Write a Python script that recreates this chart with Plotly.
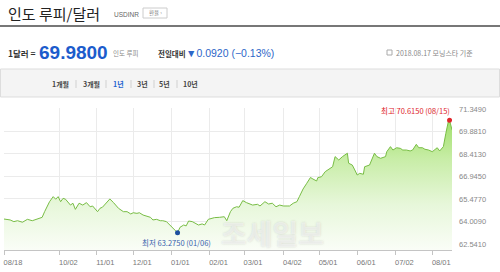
import plotly.graph_objects as go

# ---------------- data ----------------
dates = [
    "2017-08-18", "2017-08-23", "2017-08-26", "2017-08-29", "2017-09-02", "2017-09-06",
    "2017-09-10", "2017-09-14", "2017-09-18", "2017-09-20", "2017-09-22", "2017-09-24",
    "2017-09-27", "2017-09-29", "2017-10-01", "2017-10-03", "2017-10-05", "2017-10-07",
    "2017-10-11", "2017-10-13", "2017-10-15", "2017-10-18", "2017-10-21", "2017-10-24",
    "2017-10-27", "2017-10-29", "2017-11-02", "2017-11-04", "2017-11-06", "2017-11-10",
    "2017-11-12", "2017-11-15", "2017-11-18", "2017-11-19", "2017-11-23", "2017-11-26",
    "2017-11-29", "2017-12-01", "2017-12-04", "2017-12-06", "2017-12-09", "2017-12-12",
    "2017-12-15", "2017-12-17", "2017-12-20", "2017-12-23", "2017-12-25", "2017-12-28",
    "2017-12-31", "2018-01-02", "2018-01-06", "2018-01-08", "2018-01-11", "2018-01-13",
    "2018-01-15", "2018-01-18", "2018-01-20", "2018-01-23", "2018-01-26", "2018-01-28",
    "2018-01-31", "2018-02-03", "2018-02-05", "2018-02-09", "2018-02-13", "2018-02-15",
    "2018-02-18", "2018-02-20", "2018-02-23", "2018-02-25", "2018-02-28", "2018-03-03",
    "2018-03-06", "2018-03-08", "2018-03-12", "2018-03-14", "2018-03-18", "2018-03-21",
    "2018-03-24", "2018-03-27", "2018-03-30", "2018-04-02", "2018-04-05", "2018-04-07",
    "2018-04-10", "2018-04-13", "2018-04-15", "2018-04-18", "2018-04-21", "2018-04-24",
    "2018-04-26", "2018-04-29", "2018-04-30", "2018-05-03", "2018-05-06", "2018-05-08",
    "2018-05-12", "2018-05-14", "2018-05-17", "2018-05-20", "2018-05-22", "2018-05-24",
    "2018-05-25", "2018-05-28", "2018-05-30", "2018-06-01", "2018-06-03", "2018-06-06",
    "2018-06-07", "2018-06-11", "2018-06-15", "2018-06-17", "2018-06-20", "2018-06-24",
    "2018-06-25", "2018-06-28", "2018-06-30", "2018-07-03", "2018-07-06", "2018-07-08",
    "2018-07-11", "2018-07-14", "2018-07-16", "2018-07-19", "2018-07-21", "2018-07-24",
    "2018-07-26", "2018-07-29", "2018-08-01", "2018-08-03", "2018-08-05", "2018-08-07",
    "2018-08-10", "2018-08-12", "2018-08-14", "2018-08-15", "2018-08-16", "2018-08-17",
]
rates = [
    64.17, 64.11, 64.00, 64.06, 63.96, 64.15,
    64.06, 64.17, 64.28, 64.65, 64.97, 65.30,
    65.63, 65.46, 65.63, 65.30, 65.52, 65.46,
    65.08, 65.20, 64.80, 65.20, 65.08, 65.24,
    64.97, 65.02, 64.65, 64.87, 64.94, 65.30,
    65.48, 65.24, 64.97, 64.87, 64.65, 64.65,
    64.50, 64.58, 64.54, 64.58, 64.43, 64.37,
    64.28, 64.11, 64.15, 64.06, 64.06, 64.00,
    63.78, 63.63, 63.275, 63.63, 63.78, 63.72,
    64.04, 64.00, 63.89, 63.78, 63.85, 63.78,
    64.15, 64.22, 64.26, 64.28, 64.32, 64.06,
    64.65, 64.87, 64.97, 64.94, 65.37, 65.24,
    65.15, 65.08, 65.13, 65.02, 65.30, 65.15,
    65.20, 64.97, 65.08, 65.02, 65.02, 65.02,
    65.20, 65.30, 65.63, 66.13, 66.50, 66.88,
    66.78, 66.65, 66.87, 66.93, 67.26, 67.37,
    67.58, 68.24, 68.02, 68.24, 68.35, 68.46,
    67.81, 67.69, 67.37, 67.04, 67.15, 67.09,
    67.58, 67.69, 68.46, 68.24, 68.13, 68.24,
    68.56, 68.89, 68.67, 68.82, 68.78, 68.67,
    68.67, 68.61, 68.67, 69.04, 68.82, 68.82,
    68.72, 68.67, 68.56, 68.67, 68.82, 68.61,
    68.89, 69.76, 70.52, 70.615, 70.25, 69.98,
]

y_ticks = [62.541, 64.009, 65.477, 66.945, 68.413, 69.881, 71.349]
y_tick_text = ["62.5410", "64.0090", "65.4770", "66.9450", "68.4130", "69.8810", "71.3490"]
x_ticks = ["2017-08-18", "2017-10-02", "2017-11-01", "2017-12-01", "2018-01-01", "2018-02-01",
           "2018-03-01", "2018-04-02", "2018-05-01", "2018-06-01", "2018-07-02", "2018-08-01"]
x_tick_text = ["08/18", "10/02", "11/01", "12/01", "01/01", "02/01",
               "03/01", "04/02", "05/01", "06/01", "07/02", "08/01"]

title_text = "인도 루피/달러"
symbol_text = "USDINR"
change_value = 0.0920
change_pct = -0.13
as_of_text = "2018.08.17 모닝스타 기준"
period_tabs = ["1개월", "3개월", "1년", "3년", "5년", "10년"]
active_tab = "1년"
watermark_text = "조세일보"

y_min, y_max = 62.15, 71.41

# ---------------- geometry helpers (pixels -> paper) ----------------
W, H = 500, 272
L, R, T, B = 4, 48, 108, 22
PW, PH = W - L - R, H - T - B


def px(x):
    return (x - L) / PW


def py(y):
    return (H - B - y) / PH


KR = "Noto Sans CJK KR, sans-serif"
NUM = "Liberation Sans, Arial, sans-serif"

fig = go.Figure()

# baseline for the gradient fill
fig.add_trace(go.Scatter(x=dates, y=[y_min] * len(dates), mode="lines",
                         line=dict(width=0), hoverinfo="skip", showlegend=False))
fig.add_trace(go.Scatter(
    x=dates, y=rates, mode="lines", fill="tonexty",
    line=dict(color="#78bd45", width=1),
    fillgradient=dict(type="vertical", start=y_min, stop=70.62,
                      colorscale=[[0, "#fafdf7"], [0.35, "#e7f7da"],
                                  [0.7, "#c8eda7"], [1, "#a0df6a"]]),
    showlegend=False))

i_max = rates.index(max(rates))
i_min = rates.index(min(rates))
fig.add_trace(go.Scatter(x=[dates[i_max]], y=[rates[i_max]], mode="markers",
                         marker=dict(color="#e0262b", size=5), showlegend=False))
fig.add_trace(go.Scatter(x=[dates[i_min]], y=[rates[i_min]], mode="markers",
                         marker=dict(color="#1d4f9e", size=5), showlegend=False))

ann = []


def text(x, y, s, size, color, anchor="left", bold=False, family=KR, **kw):
    ann.append(dict(x=px(x), y=py(y), xref="paper", yref="paper", text=s,
                    showarrow=False, xanchor=anchor, yanchor="middle",
                    font=dict(size=size, color=color, family=family,
                              weight="bold" if bold else "normal", **kw)))


# watermark (drawn first so other texts sit on top)
text(272, 233, watermark_text, 28, "rgba(255,255,255,0.5)", anchor="center", bold=True,
     shadow="0px 0px 2px rgba(120,120,120,0.55)")

# header
text(6, 13, title_text, 15, "#222222")
text(112, 14, symbol_text, 6.5, "#666666", family=NUM)
text(155, 13, "환율 ›", 5.5, "#777777", anchor="center")
text(6, 53.5, "1달러 =", 8.5, "#333333", bold=True)
text(37, 52.5, f"{rates[-1]:.4f}", 19, "#1c5ccc", bold=True, family=NUM)
text(111, 53.5, "인도 루피", 6.5, "#888888")
text(156, 53.5, "전일대비", 7.5, "#333333", bold=True)
text(184, 53, f"▼{change_value:.4f} ({change_pct:+.2f}%)".replace("-", "−"), 10.5, "#2d67c8", family=NUM)
text(394, 53, as_of_text, 7, "#888888")

# tabs
tab_x = [60, 91, 118.5, 142, 164.5, 190]
for tx, lab in zip(tab_x, period_tabs):
    text(tx, 84, lab, 7, "#1f63d0" if lab == active_tab else "#444444", anchor="center", bold=True)

# min / max labels
text(452, 110, f"최고 {rates[i_max]:.4f} ({dates[i_max][5:7]}/{dates[i_max][8:]})", 7.5,
     "#e0262b", anchor="right")
text(140, 242, f"최저 {rates[i_min]:.4f} ({dates[i_min][5:7]}/{dates[i_min][8:]})", 7.5,
     "#3a63ae")

shapes = [
    dict(type="line", xref="paper", yref="paper", x0=px(0), x1=px(500), y0=py(26), y1=py(26),
         line=dict(color="#4a4a4a", width=1.5)),
    dict(type="rect", xref="paper", yref="paper", x0=px(143), x1=px(167), y0=py(8), y1=py(18),
         line=dict(color="#cccccc", width=1), fillcolor="#ffffff"),
    dict(type="rect", xref="paper", yref="paper", x0=px(0.5), x1=px(499.5), y0=py(69), y1=py(97),
         line=dict(color="#dddddd", width=1), fillcolor="#f4f4f4", layer="below"),
    dict(type="rect", xref="paper", yref="paper", x0=px(387), x1=px(392), y0=py(50), y1=py(55),
         line=dict(color="#aaaaaa", width=1), fillcolor="#ffffff"),
]
for sx in [76, 106, 131, 154, 177]:
    shapes.append(dict(type="line", xref="paper", yref="paper", x0=px(sx), x1=px(sx),
                       y0=py(80), y1=py(88), line=dict(color="#d0d0d0", width=1)))

fig.update_layout(
    width=W, height=H, autosize=False,
    margin=dict(l=L, r=R, t=T, b=B, pad=0),
    paper_bgcolor="#ffffff", plot_bgcolor="#ffffff",
    annotations=ann, shapes=shapes, showlegend=False,
    xaxis=dict(type="date", range=["2017-08-18", "2018-08-17"],
               tickvals=x_ticks, ticktext=x_tick_text,
               showgrid=True, gridcolor="#ebebeb", gridwidth=1,
               showline=True, linecolor="#c4c4c4", linewidth=1,
               ticks="outside", ticklen=4, tickcolor="#c4c4c4",
               ticklabelshift=9, ticklabelstandoff=1,
               tickfont=dict(size=7.5, color="#777777", family=NUM),
               zeroline=False, automargin=False, fixedrange=True),
    yaxis=dict(range=[y_min, y_max], side="right",
               tickvals=y_ticks, ticktext=y_tick_text,
               showgrid=True, gridcolor="#ebebeb", gridwidth=1,
               ticks="", ticklabelstandoff=6,
               tickfont=dict(size=7.5, color="#888888", family=NUM),
               zeroline=False, showline=False, automargin=False, fixedrange=True),
)

fig.write_html("out.html", config={"displayModeBar": False})
